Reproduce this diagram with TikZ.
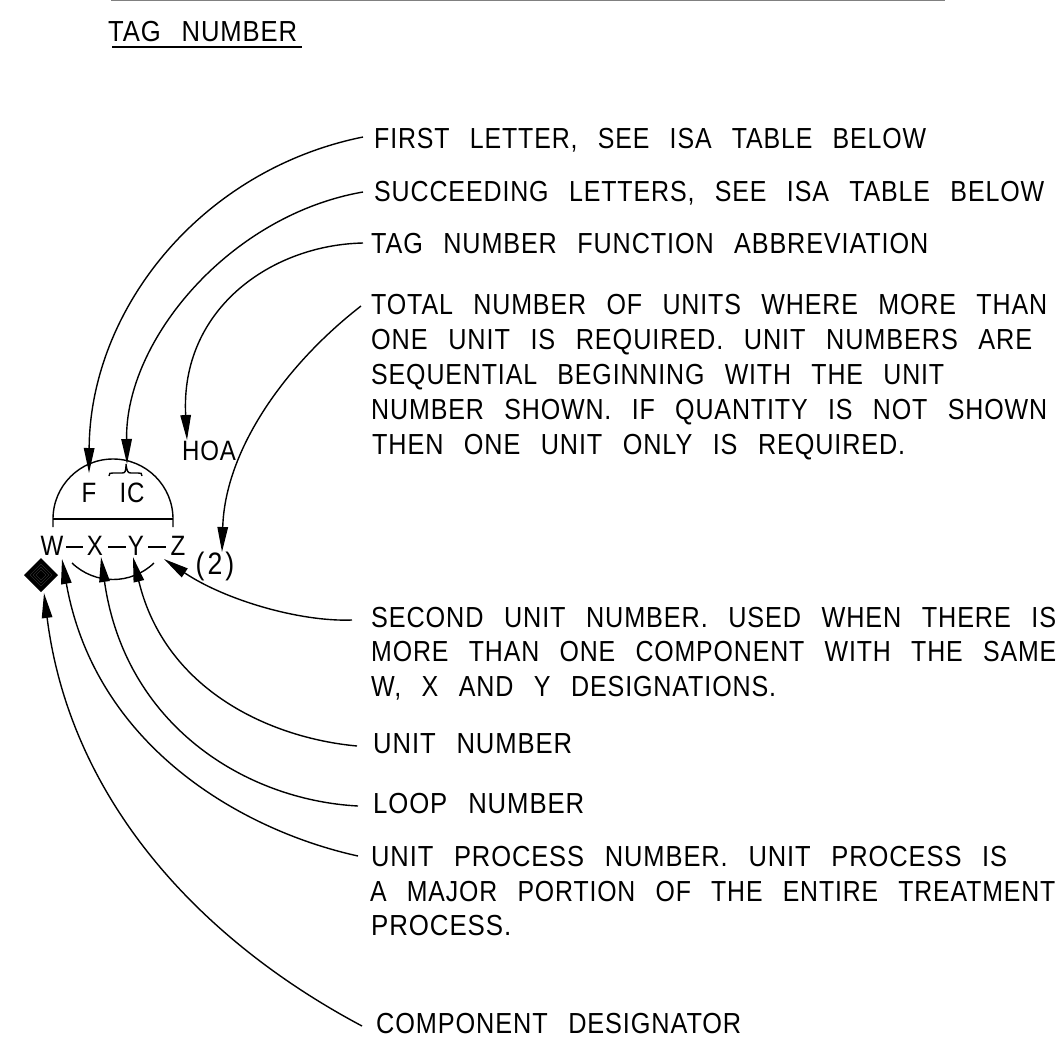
\documentclass[tikz,border=0pt]{standalone}
\usepackage{fontspec}
\usepackage{graphicx}
\setmainfont{Liberation Sans}
\usetikzlibrary{arrows.meta}
\newfontfamily\cadfont[FakeStretch=0.86,LetterSpace=3,WordSpace=2.6]{Liberation Sans}
\newcommand\fitw[2]{\resizebox{#1pt}{\height}{#2}}
\tikzset{
  x=1pt,y=-1pt,
  lbl/.style={inner sep=0pt,anchor=base west,font=\cadfont\fontsize{29}{29}\selectfont},
  small/.style={inner sep=0pt,anchor=base,font=\cadfont\fontsize{28}{28}\selectfont},
  ink/.style={line width=1.4pt,black},
  lead/.style={ink,-{Triangle[length=25pt,width=10.5pt]}},
}
\begin{document}
\begin{tikzpicture}
\useasboundingbox (0,0) rectangle (1057,1045);
\coordinate (rs) at (111,0.5); \coordinate (re) at (945,0.5);
\draw[line width=1.2pt,black!50] (rs)--(re);
\node[lbl] (tag) at (108,41) {\fitw{189}{TAG NUMBER}};
\coordinate (us) at (112,47); \coordinate (ue) at (302,47);
\draw[line width=1.6pt,black] (us) -- (ue);
\node[lbl] (t1) at (374,148) {\fitw{552}{FIRST LETTER, SEE ISA TABLE BELOW}};
\node[lbl] (t2) at (374,201) {\fitw{670}{SUCCEEDING LETTERS, SEE ISA TABLE BELOW}};
\node[lbl] (t3) at (371,253) {\fitw{557}{TAG NUMBER FUNCTION ABBREVIATION}};
\node[lbl] (t4a) at (371,314) {\fitw{676}{TOTAL NUMBER OF UNITS WHERE MORE THAN}};
\node[lbl] (t4b) at (371,349) {\fitw{661}{ONE UNIT IS REQUIRED. UNIT NUMBERS ARE}};
\node[lbl] (t4c) at (371,384) {\fitw{573}{SEQUENTIAL BEGINNING WITH THE UNIT}};
\node[lbl] (t4d) at (371,419) {\fitw{676}{NUMBER SHOWN. IF QUANTITY IS NOT SHOWN}};
\node[lbl] (t4e) at (372,454) {\fitw{533}{THEN ONE UNIT ONLY IS REQUIRED.}};
\node[lbl] (t5a) at (371,627) {\fitw{685}{SECOND UNIT NUMBER. USED WHEN THERE IS}};
\node[lbl] (t5b) at (371,661) {\fitw{685}{MORE THAN ONE COMPONENT WITH THE SAME}};
\node[lbl] (t5c) at (371,696) {\fitw{405}{W, X AND Y DESIGNATIONS.}};
\node[lbl] (t6) at (373,753) {\fitw{199}{UNIT NUMBER}};
\node[lbl] (t7) at (373,813) {\fitw{211}{LOOP NUMBER}};
\node[lbl] (t8a) at (371,866) {\fitw{636}{UNIT PROCESS NUMBER. UNIT PROCESS IS}};
\node[lbl] (t8b) at (370,901) {\fitw{685}{A MAJOR PORTION OF THE ENTIRE TREATMENT}};
\node[lbl] (t8c) at (371,935) {\fitw{140}{PROCESS.}};
\node[lbl] (t9) at (376,1033) {\fitw{365}{COMPONENT DESIGNATOR}};
\node[small] (hoa) at (209,460) {HOA};
\node[small] (f) at (89,502) {F};
\node[small] (ic) at (132,502) {IC};
\node[small] (w) at (52,555) {W};
\node[small] (x) at (95,555) {X};
\node[small] (y) at (136,555) {Y};
\node[small] (z) at (178,555) {Z};
\node[small,font=\cadfont\fontsize{31}{31}\selectfont] (q) at (215,574) {(\kern3pt 2\kern3pt)};
% symbol
\coordinate (bl) at (53,519); \coordinate (br) at (173,519);
\draw[ink] (53,527) -- (bl) arc[start angle=180,end angle=360,radius=60] -- (173,527);
\draw[ink] (bl) -- (br);
\draw[ink] (109,476) .. controls (109,473) and (110,473) .. (113,473) -- (122,473) .. controls (125,473) and (126,472) .. (126,464) .. controls (127,472) and (128,473) .. (131,473) -- (138,473) .. controls (141,473) and (142,473) .. (142,476);
\foreach \a/\b in {66/83,108/126,148/166}{\draw[ink] (\a,547) -- (\b,547);}
\draw[ink] (72,563) .. controls (95,585) and (131,585) .. (154,563);
\fill[black] (41,558) -- (58,575) -- (41,592) -- (24,575) -- cycle;
\foreach \r in {5,8,11}{\draw[line width=0.15pt,black!70] (41,575-\r) -- (41+\r,575) -- (41,575+\r) -- (41-\r,575) -- cycle;}
% leaders
\coordinate (a1) at (363,137); \coordinate (h1) at (89,473);
\coordinate (a2) at (363,192); \coordinate (h2) at (127,464);
\coordinate (a3) at (363,243); \coordinate (h3) at (187,440);
\coordinate (a4) at (361,306); \coordinate (h4) at (222,552);
\coordinate (a5) at (352,620); \coordinate (h5) at (164,559);
\coordinate (a6) at (357,746); \coordinate (h6) at (133,557);
\coordinate (a7) at (358,806); \coordinate (h7) at (101,557);
\coordinate (a8) at (358,856); \coordinate (h8) at (62,559);
\coordinate (a9) at (362,1026); \coordinate (h9) at (44,593);
\draw[lead] (a1) .. controls (200,170) and (90,310) .. (h1);
\draw[lead] (a2) .. controls (230,215) and (125,340) .. (h2);
\draw[lead] (a3) .. controls (270,245) and (180,310) .. (h3);
\draw[lead] (a4) .. controls (285,365) and (225,450) .. (h4);
\draw[lead] (a5) .. controls (300,622) and (225,600) .. (h5);
\draw[lead] (a6) .. controls (270,738) and (165,690) .. (h6);
\draw[lead] (a7) .. controls (245,800) and (125,725) .. (h7);
\draw[lead] (a8) .. controls (240,830) and (95,745) .. (h8);
\draw[lead] (a9) .. controls (200,940) and (70,800) .. (h9);
\end{tikzpicture}
\end{document}
